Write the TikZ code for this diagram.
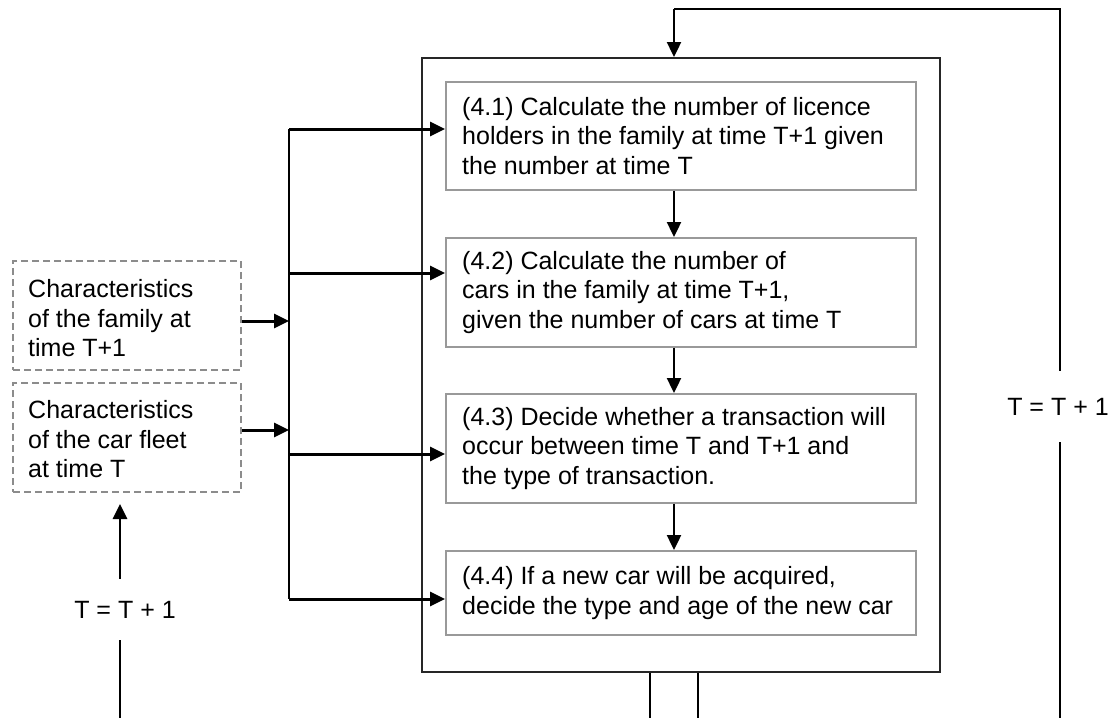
\documentclass[tikz,border=0pt]{standalone}
\usepackage{fontspec}
\setmainfont{Liberation Sans}
\usetikzlibrary{arrows.meta}
\definecolor{boxgray}{HTML}{999999}
\definecolor{dashgray}{HTML}{8C8C8C}
\definecolor{framegray}{HTML}{262626}

\begin{document}
\begin{tikzpicture}[x=1pt,y=-1pt,
  txt/.style={font=\fontsize{25}{29.5}\selectfont, align=left, inner sep=0pt, anchor=west},
  stepbox/.style={draw=boxgray, line width=1.8pt, minimum width=470pt, inner sep=0pt, anchor=north west},
  inbox/.style={draw=dashgray, dashed, dash pattern=on 7pt off 4pt, line width=2pt, minimum width=228pt, minimum height=109pt, inner sep=0pt, anchor=north west},
  frame/.style={draw=framegray, line width=1.8pt, minimum width=518pt, minimum height=614pt, inner sep=0pt, anchor=north west},
  tip/.style={-{Triangle[length=15pt 0,width=14pt 0]}},
  feed/.style={tip, line width=3pt},
  flow/.style={tip, line width=2.4pt},
  bus/.style={line width=2.2pt},
  loop/.style={line width=1.6pt},
  counter/.style={font=\fontsize{25}{29.5}\selectfont, anchor=base}
]
\useasboundingbox (0,0) rectangle (1109,718);

% enclosing frame and the four steps
\node[frame] (outer) at (421,57) {};
\node[stepbox, minimum height=108pt] (b41) at (445,81) {};
\node[stepbox, minimum height=109pt] (b42) at (445,237) {};
\node[stepbox, minimum height=109pt] (b43) at (445,393) {};
\node[stepbox, minimum height=84pt]  (b44) at (445,550) {};

\node[txt] (t41) at ([xshift=17pt]b41.west) {(4.1) Calculate the number of licence\\holders in the family at time T+1 given\\the number at time T};
\node[txt] (t42) at ([xshift=17pt]b42.west) {(4.2) Calculate the number of\\cars in the family at time T+1,\\given the number of cars at time T};
\node[txt] (t43) at ([xshift=17pt]b43.west) {(4.3) Decide whether a transaction will\\occur between time T and T+1 and\\the type of transaction.};
\node[txt] (t44) at ([xshift=17pt]b44.west) {(4.4) If a new car will be acquired,\\decide the type and age of the new car};

% input boxes
\node[inbox] (d1) at (12,260) {};
\node[inbox] (d2) at (12,382) {};
\node[txt] (td1) at ([xshift=16pt,yshift=-3pt]d1.west) {Characteristics\\of the family at\\time T+1};
\node[txt] (td2) at ([xshift=16pt,yshift=-2pt]d2.west) {Characteristics\\of the car fleet\\at time T};

% time-step labels
\node[counter, inner xsep=2pt, inner ysep=22pt] (tl) at (125,618) {T = T + 1};
\node[counter, inner xsep=2pt, inner ysep=27pt] (tr) at (1058,415) {T = T + 1};

% distribution bus
\coordinate (j1) at (289,129);
\coordinate (j2) at (289,273);
\coordinate (j3) at (289,454);
\coordinate (j4) at (289,599);
\coordinate (i1) at (289,321);
\coordinate (i2) at (289,430);
\draw[bus] (j1) -- (j4);
\draw[feed] (j1) -- (j1 -| b41.west);
\draw[feed] (j2) -- (j2 -| b42.west);
\draw[feed] (j3) -- (j3 -| b43.west);
\draw[feed] (j4) -- (j4 -| b44.west);
\draw[feed] (i1 -| d1.east) -- (i1);
\draw[feed] (i2 -| d2.east) -- (i2);

% sequence between steps
\coordinate (ax) at (674,0);
\draw[flow] (b41.south -| ax) -- (b42.north -| ax);
\draw[flow] (b42.south -| ax) -- (b43.north -| ax);
\draw[flow] (b43.south -| ax) -- (b44.north -| ax);

% outer loop back to the frame
\coordinate (rx) at (1060,0);
\coordinate (top) at (674,9);
\draw[loop] (tr.north -| rx) |- (top);
\draw[flow] (top) -- (top |- outer.north);
\coordinate (rb) at (1060,718);
\draw[loop] (tr.south -| rx) -- (rb);

% left time step feeding the fleet characteristics
\coordinate (lb) at (120,718);
\draw[flow, line width=2.8pt] (tl.north -| lb) -- ([yshift=-11pt]d2.south -| lb);
\draw[loop] (tl.south -| lb) -- (lb);

% lines leaving the frame at the bottom
\coordinate (o1) at (650,718);
\coordinate (o2) at (698,718);
\draw[loop] (o1 |- outer.south) -- (o1);
\draw[loop] (o2 |- outer.south) -- (o2);
\end{tikzpicture}
\end{document}
